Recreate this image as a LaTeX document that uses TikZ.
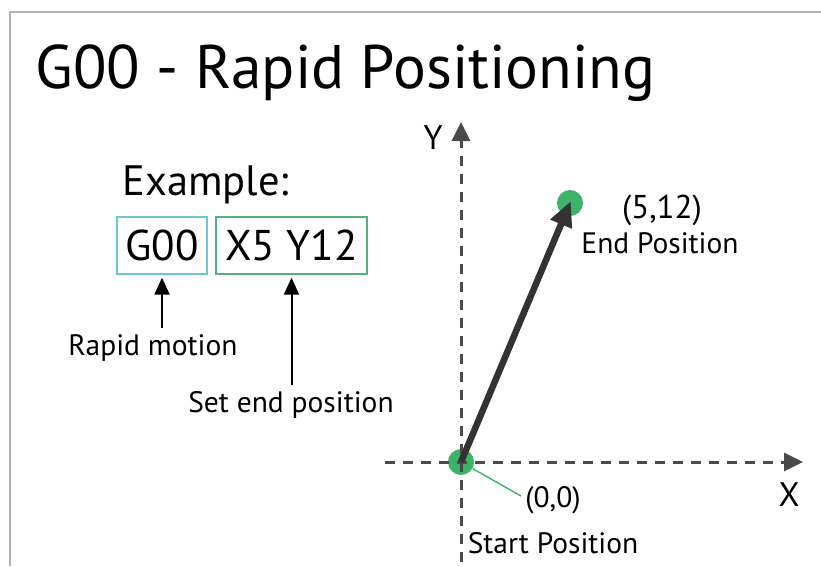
\documentclass[tikz,border=0pt]{standalone}
\usepackage{fontspec}
\setmainfont{PT Sans}
\usetikzlibrary{arrows.meta}

\definecolor{dotgreen}{HTML}{3DB36A}
\definecolor{boxcyan}{HTML}{72C6D2}
\definecolor{boxgreen}{HTML}{55B07E}
\definecolor{axisgray}{HTML}{4A4A4A}
\definecolor{arrowdark}{HTML}{333333}

\tikzset{
  codebox/.style={draw=#1, line width=1.3pt, minimum height=57pt, inner sep=0pt,
    font=\fontsize{43}{47}\selectfont},
  caption/.style={font=\fontsize{29.5}{32}\selectfont},
  axis/.style={axisgray, line width=3pt, dash pattern=on 10pt off 8pt,
    -{Triangle[length=19pt,width=18pt]}},
  pointer/.style={black, line width=2pt, -{Triangle[length=17pt,width=15pt]},
    shorten <=3pt, shorten >=3pt},
  dot/.style={circle, fill=dotgreen, minimum size=26pt, inner sep=0pt},
}

\begin{document}
\begin{tikzpicture}[x=1pt, y=-1pt]
\useasboundingbox (0,0) rectangle (821,566);
\draw[gray!60, line width=1.5pt] (10,566) -- (10,12) -- (821,12);

%%   kw   (name)   (x, y)   {text}
    \node[anchor=base west, font=\fontsize{61.5}{66}\selectfont] (title) at (32,88) {G00 - Rapid Positioning};
    \node[anchor=base west, font=\fontsize{42.5}{46}\selectfont] (exmpl) at (119,195) {Example:};
    \node[codebox=boxcyan, minimum width=90pt] (gcode) at (162,245.5) {G00};
    \node[codebox=boxgreen, minimum width=151pt] (xycode) at (291.5,245.5) {X5 Y12};
    \node[caption] (rapid) at (153,348) {Rapid motion};
    \node[caption] (setend) at (291,405) {Set end position};

    \coordinate (orig) at (461,462);
    \coordinate (ytop) at (461,122);
    \coordinate (ybot) at (461,562);
    \coordinate (xlft) at (385,462);
    \coordinate (xrgt) at (803,462);
    \node[font=\fontsize{34}{36}\selectfont] (ylab) at (433,138) {Y};
    \node[font=\fontsize{34}{36}\selectfont] (xlab) at (789,495) {X};

    \node[dot] (start) at (orig) {};
    \node[dot] (finish) at (570,203) {};
    \node[font=\fontsize{33}{36}\selectfont] (endxy) at (662,210) {(5,12)};
    \node[caption] (endtxt) at (660,243) {End Position};
    \node[caption] (startxy) at (553,500) {(0,0)};
    \node[caption] (starttxt) at (553,543) {Start Position};
    \coordinate (tag) at (521,496);

    \draw[axis] (ybot) -- (ytop);
    \draw[axis] (xlft) -- (xrgt);
    \draw[dotgreen, line width=1.4pt] (start) -- (tag);
    \draw[arrowdark, line width=6.5pt, -{Triangle[length=25pt,width=22pt]}, shorten >=-2pt] (start.center) -- (finish.center);
    \draw[pointer] (gcode.south |- rapid.north) -- (gcode.south);
    \draw[pointer] (xycode.south |- setend.north) -- (xycode.south);
\end{tikzpicture}
\end{document}
